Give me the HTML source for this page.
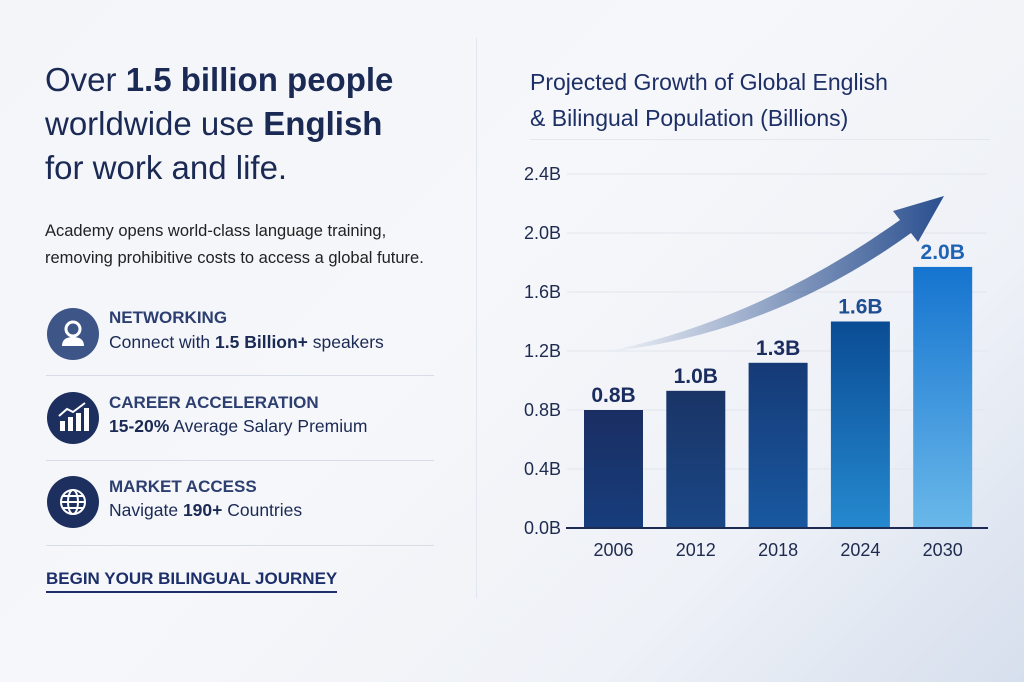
<!DOCTYPE html>
<html><head><meta charset="utf-8">
<style>
*{margin:0;padding:0;box-sizing:border-box}
body{width:1024px;height:682px;overflow:hidden;font-family:"Liberation Sans","DejaVu Sans",sans-serif;color:#1b2a55;position:relative;
background:linear-gradient(135deg,#f3f5f9 0%,#f6f7fa 45%,#eef1f7 75%,#d6dfed 100%);}
.abs{position:absolute;white-space:nowrap}
h1{position:absolute;left:45px;top:58px;font-size:33px;font-weight:400;line-height:44px;color:#1b2a55;letter-spacing:0px;white-space:nowrap}
h1 b{font-weight:700}
.sub{left:45px;top:218px;font-size:16.5px;line-height:27px;color:#222}
.feat{position:absolute;left:47px}
.icon{position:absolute;left:0;top:0;width:52px;height:52px;border-radius:50%;background:#1d2f5e}
.ft{position:absolute;left:62px;font-size:17px;font-weight:700;color:#2c3f70;white-space:nowrap}
.fd{position:absolute;left:62px;top:24px;font-size:17.5px;color:#1b2a55;white-space:nowrap}
.sep{position:absolute;left:46px;width:388px;height:1px;background:#d7dce6}
</style></head><body>
<div style="position:absolute;left:476px;top:38px;width:1px;height:560px;background:#e2e6ee"></div>
<h1>Over <b>1.5 billion people</b><br>worldwide use <b>English</b><br>for work and life.</h1>
<div class="abs sub">Academy opens world-class language training,<br>removing prohibitive costs to access a global future.</div>

<div class="feat" style="top:308px">
<div class="icon" style="background:#3d5587"><svg width="52" height="52"><circle cx="26" cy="21" r="7" fill="none" stroke="#fff" stroke-width="3"/><path d="M15 38 Q15 29 26 29 Q37 29 37 38 Z" fill="#fff"/></svg></div>
<div class="ft" style="top:0px">NETWORKING</div>
<div class="fd">Connect with <b>1.5 Billion+</b> speakers</div>
</div>
<div class="sep" style="top:375px"></div>
<div class="feat" style="top:392px">
<div class="icon"><svg width="52" height="52"><rect x="13" y="29" width="5" height="10" fill="#fff"/><rect x="21" y="25" width="5" height="14" fill="#fff"/><rect x="29" y="21" width="5" height="18" fill="#fff"/><rect x="37" y="16" width="5" height="23" fill="#fff"/><path d="M12 24 L20 17 L26 20 L38 11" fill="none" stroke="#fff" stroke-width="2"/></svg></div>
<div class="ft" style="top:1px">CAREER ACCELERATION</div>
<div class="fd"><b>15-20%</b> Average Salary Premium</div>
</div>
<div class="sep" style="top:460px"></div>
<div class="feat" style="top:476px">
<div class="icon"><svg width="52" height="52"><g fill="none" stroke="#fff" stroke-width="2"><circle cx="26" cy="26" r="12"/><ellipse cx="26" cy="26" rx="5" ry="12"/><line x1="14" y1="26" x2="38" y2="26"/><line x1="16" y1="20" x2="36" y2="20"/><line x1="16" y1="32" x2="36" y2="32"/></g></svg></div>
<div class="ft" style="top:1px">MARKET ACCESS</div>
<div class="fd">Navigate <b>190+</b> Countries</div>
</div>
<div class="sep" style="top:545px"></div>
<div class="abs" style="left:46px;top:569px;font-size:17px;font-weight:700;color:#1d2f6a;border-bottom:2px solid #1d2f6a;padding-bottom:2px;cursor:pointer">BEGIN YOUR BILINGUAL JOURNEY</div>

<div class="abs" style="left:530px;top:64px;font-size:23px;line-height:36px;color:#1d2f66">Projected Growth of Global English<br>&amp; Bilingual Population (Billions)</div>
<div style="position:absolute;left:530px;top:139px;width:460px;height:1px;background:#e3e7ee"></div>

<svg id="chart" width="1024" height="682" style="position:absolute;left:0;top:0">
<defs>
<linearGradient id="g0" x1="0" y1="0" x2="0" y2="1"><stop offset="0" stop-color="#1a2e62"/><stop offset="1" stop-color="#173d7c"/></linearGradient>
<linearGradient id="g1" x1="0" y1="0" x2="0" y2="1"><stop offset="0" stop-color="#1a3466"/><stop offset="1" stop-color="#1a4786"/></linearGradient>
<linearGradient id="g2" x1="0" y1="0" x2="0" y2="1"><stop offset="0" stop-color="#163a76"/><stop offset="1" stop-color="#1858a0"/></linearGradient>
<linearGradient id="g3" x1="0" y1="0" x2="0" y2="1"><stop offset="0" stop-color="#0a4c94"/><stop offset="1" stop-color="#2589cf"/></linearGradient>
<linearGradient id="g4" x1="0" y1="0" x2="0" y2="1"><stop offset="0" stop-color="#1574cf"/><stop offset="1" stop-color="#6ab8ea"/></linearGradient>
<linearGradient id="arr" x1="0" y1="0" x2="1" y2="0"><stop offset="0" stop-color="#2a4f8f" stop-opacity="0"/><stop offset="1" stop-color="#2a4f8f"/></linearGradient>
</defs>
</svg>
<script>
const categories=["2006","2012","2018","2024","2030"];
const values=[0.8,0.93,1.12,1.40,1.77];
const valueLabels=["0.8B","1.0B","1.3B","1.6B","2.0B"];
const ticks=[0,0.4,0.8,1.2,1.6,2.0,2.4];
const tickLabels=["0.0B","0.4B","0.8B","1.2B","1.6B","2.0B","2.4B"];
const svg=document.getElementById('chart');
const NS='http://www.w3.org/2000/svg';
const y0=528,pxPer=147.5;
function y(v){return y0-v*pxPer;}
function x(i){return 584+i*82.3;}
const bw=59;
function mk(t,a){const e=document.createElementNS(NS,t);for(const k in a)e.setAttribute(k,a[k]);svg.appendChild(e);return e;}
ticks.forEach((t,i)=>{
 if(t>0){const l=mk('line',{x1:567,x2:987,y1:y(t),y2:y(t),stroke:'#e1e5ec','stroke-width':1});
 
 }
 const tx=mk('text',{x:561,y:y(t)+6,'text-anchor':'end','font-size':18,fill:'#1e2b4f','font-family':'Liberation Sans, sans-serif'});
 tx.textContent=tickLabels[i];
 
 
});
const ap=mk('path',{d:'M605 352 Q760 320 900 220 L893 211 L944 196 L918 242 L911 233 Q770 335 605 352 Z',fill:'url(#arr)'});


values.forEach((v,i)=>{
 const r=mk('rect',{x:x(i),y:y(v),width:bw,height:y0-y(v),fill:'url(#g'+i+')'});
 
 
 const lb=mk('text',{x:x(i)+bw/2,y:y(v)-8,'text-anchor':'middle','font-size':21,'font-weight':'bold',fill:i<3?'#1b2c5e':(i==3?'#1d4e92':'#1f63b5'),'font-family':'Liberation Sans, sans-serif'});
 lb.textContent=valueLabels[i];
 
 
 const c=mk('text',{x:x(i)+bw/2,y:556,'text-anchor':'middle','font-size':18,fill:'#1e2b4f','font-family':'Liberation Sans, sans-serif'});
 c.textContent=categories[i];
 
 
});
const ax=mk('line',{x1:566,x2:988,y1:y0,y2:y0,stroke:'#1d2a52','stroke-width':2});


</script>
</body></html>
